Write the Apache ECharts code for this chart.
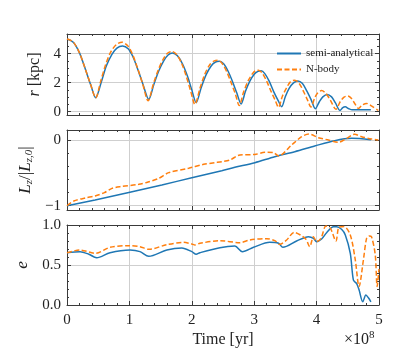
<!DOCTYPE html>
<html lang="en">
<head>
    <meta charset="UTF-8">
    <title>orbit decay</title>
    <style>
      * { padding: 0; margin: 0; }
      body { background: #fff; }
    </style>
</head>
<body>
    <div id="main" style="width: 399px;height:359px;"></div>
    <script src="https://cdn.jsdelivr.net/npm/echarts@6/dist/echarts.min.js"></script>
    <script>
        // time in units of 1e8 yr
        var rTimeSemi = [0, 0.10, 0.20, 0.30, 0.38, 0.46, 0.55, 0.63, 0.72, 0.80, 0.89, 0.98, 1.06, 1.14, 1.22, 1.31, 1.39, 1.47, 1.55, 1.62, 1.69, 1.77, 1.85, 1.93, 2.00, 2.07, 2.15, 2.23, 2.31, 2.38, 2.44, 2.51, 2.58, 2.65, 2.72, 2.79, 2.86, 2.93, 3.00, 3.06, 3.11, 3.17, 3.24, 3.31, 3.38, 3.44, 3.50, 3.56, 3.63, 3.70, 3.77, 3.84, 3.91, 3.98, 4.04, 4.10, 4.17, 4.24, 4.30, 4.375, 4.42, 4.46, 4.51, 4.57, 4.70, 4.87];
        var rSemi = [5.00, 4.78, 4.05, 2.85, 1.85, 0.96, 2.05, 3.15, 3.95, 4.38, 4.52, 4.33, 3.75, 2.85, 1.85, 0.85, 1.85, 2.80, 3.50, 3.90, 4.04, 3.85, 3.30, 2.45, 1.50, 0.62, 1.65, 2.55, 3.15, 3.42, 3.47, 3.30, 2.80, 2.10, 1.30, 0.53, 1.40, 2.10, 2.58, 2.78, 2.81, 2.62, 2.10, 1.40, 0.80, 0.34, 1.05, 1.60, 1.98, 2.12, 1.95, 1.45, 0.85, 0.20, 0.65, 1.02, 1.19, 1.02, 0.62, 0.08, 0.28, 0.33, 0.22, 0.13, 0.13, 0.14];
        var rTimeNbody = [0, 0.10, 0.20, 0.30, 0.38, 0.46, 0.54, 0.62, 0.70, 0.79, 0.88, 0.97, 1.05, 1.13, 1.21, 1.30, 1.38, 1.46, 1.54, 1.61, 1.68, 1.76, 1.84, 1.91, 1.98, 2.05, 2.13, 2.21, 2.29, 2.36, 2.42, 2.49, 2.56, 2.63, 2.70, 2.76, 2.83, 2.90, 2.97, 3.02, 3.07, 3.13, 3.20, 3.27, 3.33, 3.39, 3.45, 3.52, 3.58, 3.65, 3.72, 3.79, 3.85, 3.91, 3.97, 4.02, 4.08, 4.14, 4.22, 4.31, 4.38, 4.44, 4.50, 4.56, 4.62, 4.67, 4.73, 4.80, 4.87, 4.99];
        var rNbody = [5.00, 4.80, 4.05, 2.85, 1.85, 0.95, 2.10, 3.25, 4.10, 4.62, 4.79, 4.55, 3.95, 3.00, 1.95, 0.75, 1.85, 2.85, 3.60, 4.02, 4.15, 3.92, 3.30, 2.45, 1.45, 0.50, 1.60, 2.60, 3.25, 3.50, 3.54, 3.30, 2.75, 2.00, 1.20, 0.42, 1.35, 2.10, 2.60, 2.82, 2.86, 2.65, 2.10, 1.40, 0.85, 0.30, 1.05, 1.65, 2.05, 2.17, 1.95, 1.40, 0.85, 0.32, 0.95, 1.30, 1.45, 1.30, 0.80, 0.16, 0.70, 1.00, 1.08, 0.90, 0.50, 0.22, 0.45, 0.57, 0.42, 0.08];

        var lzTimeSemi = [0, 0.45, 0.99, 1.52, 2.00, 2.48, 2.69, 3.01, 3.33, 3.65, 3.97, 4.29, 4.56, 4.87];
        var lzSemi = [-1.0, -0.913, -0.80, -0.685, -0.574, -0.467, -0.416, -0.345, -0.254, -0.178, -0.091, -0.01, 0.025, 0.005];
        var lzTimeNbody = [0, 0.11, 0.30, 0.45, 0.60, 0.72, 0.85, 1.15, 1.30, 1.47, 1.63, 1.95, 2.19, 2.37, 2.48, 2.61, 2.77, 3.01, 3.17, 3.31, 3.39, 3.60, 3.76, 3.88, 4.03, 4.19, 4.35, 4.48, 4.61, 4.72, 4.88, 4.99];
        var lzNbody = [-1.0, -0.928, -0.88, -0.852, -0.80, -0.736, -0.71, -0.675, -0.64, -0.584, -0.497, -0.43, -0.37, -0.345, -0.33, -0.304, -0.228, -0.22, -0.188, -0.193, -0.243, -0.076, 0.05, 0.091, 0.035, 0.0, -0.035, 0.025, 0.087, 0.05, 0.015, 0.0];

        var eTimeSemi = [0, 0.21, 0.35, 0.475, 0.69, 1.01, 1.17, 1.31, 1.60, 1.84, 2.00, 2.07, 2.13, 2.45, 2.69, 2.81, 2.99, 3.25, 3.39, 3.46, 3.68, 3.87, 3.95, 4.00, 4.08, 4.16, 4.27, 4.32, 4.40, 4.46, 4.54, 4.59, 4.64, 4.68, 4.74, 4.79, 4.83, 4.87];
        var eSemi = [0.654, 0.667, 0.635, 0.591, 0.654, 0.687, 0.667, 0.608, 0.687, 0.712, 0.667, 0.635, 0.654, 0.717, 0.737, 0.667, 0.721, 0.783, 0.771, 0.721, 0.80, 0.854, 0.833, 0.792, 0.825, 0.904, 0.979, 0.979, 0.946, 0.875, 0.646, 0.31, 0.27, 0.19, 0.04, 0.125, 0.09, 0.04];
        var eTimeNbody = [0, 0.21, 0.46, 0.69, 1.01, 1.17, 1.31, 1.60, 1.87, 2.00, 2.05, 2.13, 2.45, 2.77, 2.93, 3.20, 3.33, 3.41, 3.52, 3.64, 3.74, 3.83, 3.89, 3.95, 4.00, 4.07, 4.15, 4.22, 4.31, 4.36, 4.44, 4.54, 4.62, 4.68, 4.75, 4.80, 4.84, 4.88, 4.94, 4.97, 5.00];
        var eNbody = [0.654, 0.687, 0.646, 0.721, 0.742, 0.729, 0.696, 0.754, 0.783, 0.763, 0.75, 0.771, 0.804, 0.779, 0.813, 0.829, 0.804, 0.758, 0.813, 0.908, 0.875, 0.821, 0.729, 0.854, 0.792, 0.833, 0.988, 0.96, 0.80, 0.975, 0.98, 0.875, 0.563, 0.23, 0.563, 0.83, 0.863, 0.854, 0.625, 0.23, 0.45];

        var xTicks = [0, 1, 2, 3, 4, 5];
        var rTicks = [0, 2, 4];
        var rMinor = [0.5, 1, 1.5, 2.5, 3, 3.5, 4.5, 5];
        var lzTicks = [-1, 0];
        var lzMinor = [-0.8, -0.6, -0.4, -0.2];
        var eTicks = [0, 0.5, 1];
        var eMinor = [0.1, 0.2, 0.3, 0.4, 0.6, 0.7, 0.8, 0.9];

        var serif = 'Liberation Serif';
        var ink = '#222';
        var frame = '#3a3a3a';
        var gridColor = '#cfcfcf';
        var blue = '#1f77b4';
        var orange = '#ff7f0e';

        function pairs(t, v) {
            return t.map(function (x, i) { return [x, v[i]]; });
        }

        // 3 panels stacked
        var grids = [
            {left: 67, top: 34, width: 312, height: 81},
            {left: 67, top: 130, width: 312, height: 80},
            {left: 67, top: 225, width: 312, height: 80}
        ];

        var xAxes = [];
        grids.forEach(function (g, i) {
            var last = i === grids.length - 1;
            [ 'bottom', 'top' ].forEach(function (pos) {
                xAxes.push({
                    type: 'value', gridIndex: i, position: pos,
                    min: 0, max: 5, interval: 1,
                    axisLine: {show: true, onZero: false, lineStyle: {color: frame, width: 1}},
                    axisTick: {show: true, inside: true, length: 4, lineStyle: {color: frame}},
                    minorTick: {show: true, splitNumber: 5, length: 2, lineStyle: {color: frame}},
                    splitLine: {show: pos === 'bottom', lineStyle: {color: gridColor, width: 1}},
                    axisLabel: {show: last && pos === 'bottom', margin: 8, color: ink, fontFamily: serif, fontSize: 15,
                        customValues: xTicks},
                    name: last && pos === 'bottom' ? 'Time [yr]' : '',
                    nameLocation: 'middle', nameGap: 27,
                    nameTextStyle: {color: ink, fontFamily: serif, fontSize: 16}
                });
            });
        });

        function yAxesFor(i, min, max, majors, minors, fmt, name, nameGap, nameSize) {
            var out = [];
            ['left', 'right'].forEach(function (pos) {
                out.push({
                    type: 'value', gridIndex: i, position: pos, min: min, max: max,
                    axisLine: {show: true, onZero: false, lineStyle: {color: frame, width: 1}},
                    axisTick: {show: true, inside: true, length: 4, customValues: majors, lineStyle: {color: frame}},
                    splitLine: {show: pos === 'left', lineStyle: {color: gridColor, width: 1}},
                    axisLabel: {show: pos === 'left', margin: 6, color: ink, fontFamily: serif, fontSize: 15,
                        customValues: majors, formatter: fmt},
                    name: pos === 'left' ? name : '',
                    nameLocation: 'middle', nameRotate: 90, nameGap: nameGap,
                    nameTextStyle: {color: ink, fontFamily: serif, fontSize: nameSize,
                        rich: {
                            i: {fontFamily: serif, fontStyle: 'italic', fontSize: nameSize, color: ink},
                            s: {fontFamily: serif, fontStyle: 'italic', fontSize: 11, color: ink, verticalAlign: 'bottom', padding: [7, 0, 0, 0]}
                        }}
                });
                out.push({
                    type: 'value', gridIndex: i, position: pos, min: min, max: max,
                    axisLine: {show: false, onZero: false},
                    axisTick: {show: true, inside: true, length: 2, customValues: minors, lineStyle: {color: frame}},
                    splitLine: {show: false},
                    axisLabel: {show: false}
                });
            });
            return out;
        }

        var yAxes = []
            .concat(yAxesFor(0, -0.23, 5.35, rTicks, rMinor, function (v) { return String(v); }, '{i|r} [kpc]', 24, 16))
            .concat(yAxesFor(1, -1.065, 0.152, lzTicks, lzMinor, function (v) { return v < 0 ? '\u2212' + Math.abs(v) : String(v); },
                '{i|L}{s|z}/|{i|L}{s|z,0}|', 27, 17))
            .concat(yAxesFor(2, 0, 1, eTicks, eMinor, function (v) { return v.toFixed(1); }, '{i|e}', 30, 17));

        function line(name, idx, data, color, dashed) {
            return {
                name: name, type: 'line', xAxisIndex: idx * 2, yAxisIndex: idx * 4,
                data: data, showSymbol: false, symbol: 'none', smooth: 0.3,
                lineStyle: {color: color, width: 1.5, type: dashed ? [5, 2.5] : 'solid'},
                itemStyle: {color: color},
                z: dashed ? 3 : 2
            };
        }

        var option = {
            animation: false,
            backgroundColor: '#fff',
            grid: grids,
            xAxis: xAxes,
            yAxis: yAxes,
            legend: {
                data: ['semi-analytical', 'N-body'],
                orient: 'vertical', left: 271, top: 43,
                itemWidth: 24, itemHeight: 8, itemGap: 5,
                itemStyle: {opacity: 0},
                textStyle: {color: ink, fontFamily: serif, fontSize: 11}
            },
            graphic: [{
                type: 'text', left: 344, top: 330,
                style: {
                    text: '\u00d710{p|8}', fill: ink, font: '16px "Liberation Serif"',
                    rich: {p: {fontSize: 11, fontFamily: serif, verticalAlign: 'top', padding: [0, 0, 8, 0], fill: ink}}
                }
            }],
            series: [
                line('semi-analytical', 0, pairs(rTimeSemi, rSemi), blue, false),
                line('N-body', 0, pairs(rTimeNbody, rNbody), orange, true),
                line('semi-analytical', 1, pairs(lzTimeSemi, lzSemi), blue, false),
                line('N-body', 1, pairs(lzTimeNbody, lzNbody), orange, true),
                line('semi-analytical', 2, pairs(eTimeSemi, eSemi), blue, false),
                line('N-body', 2, pairs(eTimeNbody, eNbody), orange, true)
            ]
        };

        var myChart = echarts.init(document.getElementById('main'));
        myChart.setOption(option);
    </script>
</body>
</html>
